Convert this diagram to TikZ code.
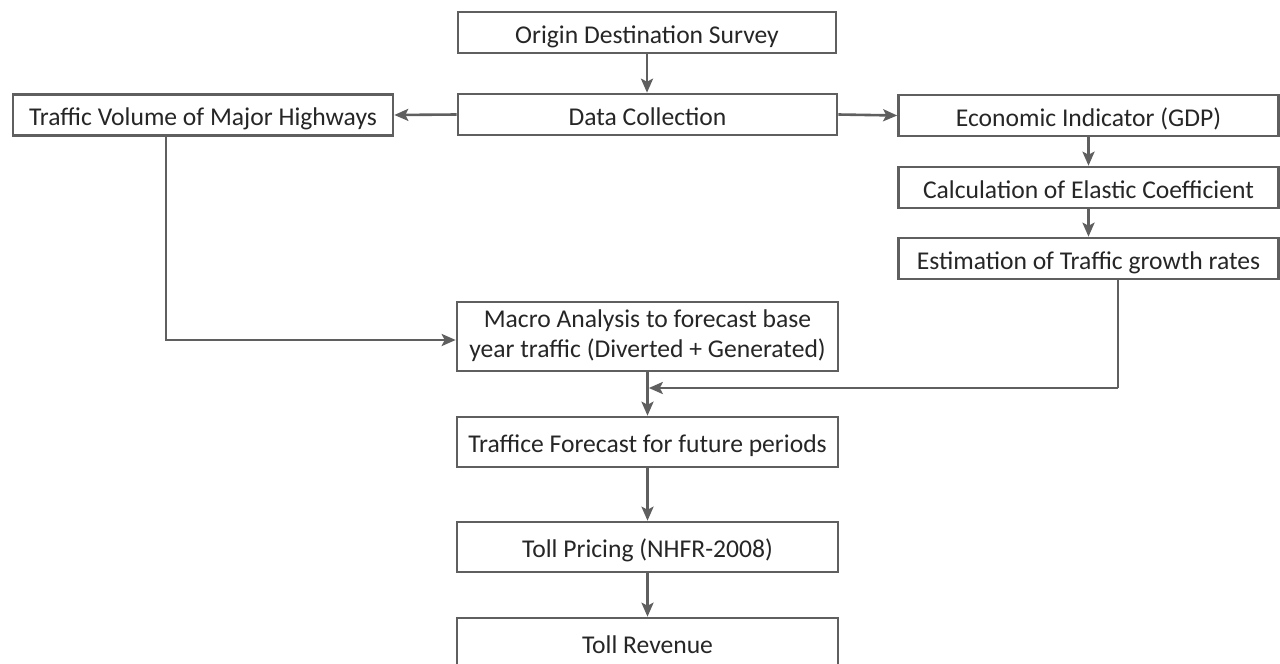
\documentclass[tikz,border=0pt]{standalone}
\usepackage{fontspec}
\setmainfont{Carlito}
\usetikzlibrary{arrows.meta,calc}
\definecolor{linegray}{HTML}{5F5F5F}
\definecolor{textgray}{HTML}{262626}
\begin{document}
\begin{tikzpicture}[x=1pt,y=-1pt,
  box/.style={draw=linegray, line width=2.6pt, rectangle, inner sep=0pt,
    text=textgray, font=\fontsize{25.6}{30}\selectfont, align=center, fill=white,
    text height=22pt, text depth=0.6pt},
  twoline/.style={text height=46pt, text depth=4pt},
  arr/.style={draw=linegray, line width=2.6pt,
    -{Stealth[length=14pt,width=12pt,inset=3pt]}},
  ln/.style={draw=linegray, line width=2.6pt}]
\useasboundingbox (0,0) rectangle (1280,664);
% main column
\node[box, minimum width=378pt, minimum height=41pt] (ods) at (647,32.5) {Origin Destination Survey};
\node[box, minimum width=379pt, minimum height=41pt] (dc) at (647.5,114.5) {Data Collection};
\node[box, minimum width=380pt, minimum height=41pt] (tv) at (203,115) {Traffic Volume of Major Highways};
\node[box, minimum width=380pt, minimum height=41pt] (ei) at (1088.5,115.5) {Economic Indicator (GDP)};
\node[box, minimum width=380pt, minimum height=41pt] (ce) at (1088.5,187.5) {Calculation of Elastic Coefficient};
\node[box, minimum width=380pt, minimum height=41pt] (et) at (1088.5,258.5) {Estimation of Traffic growth rates};
\node[box, twoline, minimum width=381pt, minimum height=69pt] (macro) at (647.5,336.5) {Macro Analysis to forecast base\\year traffic (Diverted + Generated)};
\node[box, minimum width=381pt, minimum height=50pt] (tf) at (647.5,442) {Traffice Forecast for future periods};
\node[box, minimum width=381pt, minimum height=50pt] (tp) at (647.5,547) {Toll Pricing (NHFR-2008)};
\node[box, minimum width=381pt, minimum height=50pt] (tr) at (647.5,643) {Toll Revenue};
% helper coordinates
\coordinate (c1) at (166,340);
\coordinate (c2) at (1118,388);
% connectors
\draw[arr] (ods.south) -- (ods.south |- dc.north);
\draw[arr] (dc.west) -- (tv.east);
\draw[arr] (dc.east) -- (ei.west);
\draw[arr] (ei.south) -- (ce.north);
\draw[arr] (ce.south) -- (et.north);
\draw[arr] (tv.south -| c1) -- (c1) -- (c1 -| macro.west);
\draw[ln] (et.south -| c2) -- (c2);
\draw[arr] (c2) -- ([xshift=1.3pt]c2 -| macro.south);
\draw[arr] (macro.south) -- (tf.north);
\draw[arr] (tf.south) -- (tp.north);
\draw[arr] (tp.south) -- (tr.north);
\end{tikzpicture}
\end{document}
